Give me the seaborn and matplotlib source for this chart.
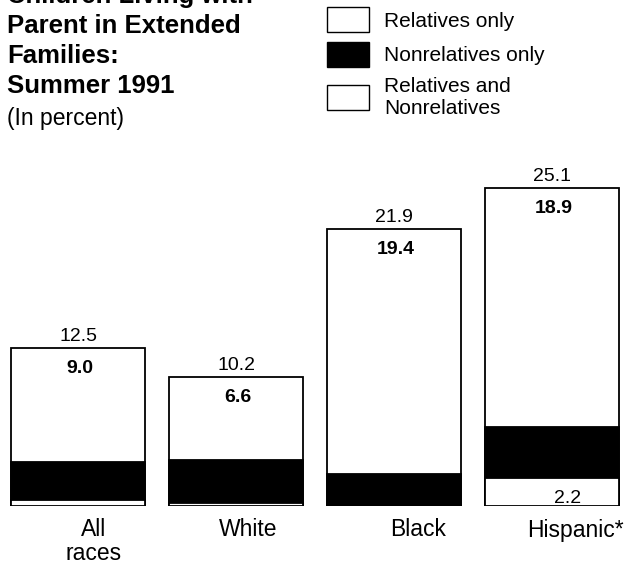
import matplotlib
matplotlib.use("Agg")
import matplotlib.pyplot as plt
import matplotlib.transforms as mtransforms
from matplotlib.patches import Patch
import pandas as pd
import seaborn as sns

sns.set_style("white")
plt.rcParams['font.family'] = ['Liberation Sans', 'DejaVu Sans']
plt.rcParams['text.color'] = 'black'
plt.rcParams['xtick.color'] = 'black'

# values (percent)
categories = ["All\nraces", "White", "Black", "Hispanic*"]
total = [12.5, 10.2, 21.9, 25.1]
relatives_only = [9.0, 6.6, 19.4, 18.9]
nonrelatives_only = [3.0, 3.4, 2.4, 4.0]
rel_and_nonrel = [0.5, 0.2, 0.1, 2.2]

legend_labels = ["Relatives only", "Nonrelatives only", "Relatives and\nNonrelatives"]
title_lines = ["Children Living with", "Parent in Extended", "Families:", "Summer 1991"]
subtitle = "(In percent)"

df = pd.DataFrame({
    "cat": categories,
    "total": total,
    "relatives": relatives_only,
    "nonrel": nonrelatives_only,
    "both": rel_and_nonrel,
})
# cumulative heights, drawn back to front
df["lower"] = df["nonrel"] + df["both"]

fig = plt.figure(figsize=(6.27, 5.7), dpi=100)
ax = fig.add_axes([0, 64 / 570, 1, 380 / 570])

bar_kws = dict(width=0.85, saturation=1, edgecolor="black", linewidth=1.3, ax=ax)
sns.barplot(data=df, x="cat", y="total", color="white", **bar_kws)
sns.barplot(data=df, x="cat", y="lower", color="black", **bar_kws)
sns.barplot(data=df, x="cat", y="both", color="white", **bar_kws)

ax.set_xlim(-0.494, 3.475)
ax.set_ylim(0, 30)
ax.set_xlabel("")
ax.set_ylabel("")
ax.set_yticks([])
for sp in ax.spines.values():
    sp.set_visible(False)
ax.tick_params(axis="x", length=0, pad=9, labelsize=16.5, labelcolor="black")

# labels sit a little right of the bar centres in the original
shifts = [11, 9, 17, 17]
for lab, dx in zip(ax.get_xticklabels(), shifts):
    lab.set_linespacing(1.05)
    lab.set_transform(lab.get_transform() +
                      mtransforms.ScaledTranslation(dx / 72, 0, fig.dpi_scale_trans))

# totals above, relatives-only inside the top
ax.bar_label(ax.containers[0], labels=[f"{v:.1f}" for v in df["total"]],
             padding=2, fontsize=14, color="black")
for i, row in df.iterrows():
    ax.annotate(f"{row['relatives']:.1f}", xy=(i, row["total"]), xytext=(1, -18),
                textcoords="offset points", ha="center", va="baseline",
                fontsize=14, fontweight="bold")
# only Hispanic has a readable bottom segment
ax.annotate(f"{df['both'].iloc[3]:.1f}", xy=(3, 0), xytext=(11, 2),
            textcoords="offset points", ha="center", va="baseline", fontsize=14)

# title block, one line at a time (first line runs off the top, as in the original)
baselines = [3, 33, 63, 93]
for line, yb in zip(title_lines, baselines):
    fig.text(7 / 627, 1 - yb / 570, line, fontsize=18.5, fontweight="bold",
             va="baseline", ha="left")
fig.text(7 / 627, 1 - 125 / 570, subtitle, fontsize=16.5, va="baseline", ha="left")

handles = [Patch(facecolor="white", edgecolor="black", linewidth=1),
           Patch(facecolor="black", edgecolor="black", linewidth=1),
           Patch(facecolor="white", edgecolor="black", linewidth=1)]
fig.legend(handles, legend_labels, loc="upper left",
           bbox_to_anchor=(327 / 627, 1 - 7 / 570), frameon=False,
           fontsize=15, handlelength=2.0, handleheight=1.5, handletextpad=0.75,
           labelspacing=0.45, borderpad=0, borderaxespad=0)

fig.savefig("out.png", dpi=100)
